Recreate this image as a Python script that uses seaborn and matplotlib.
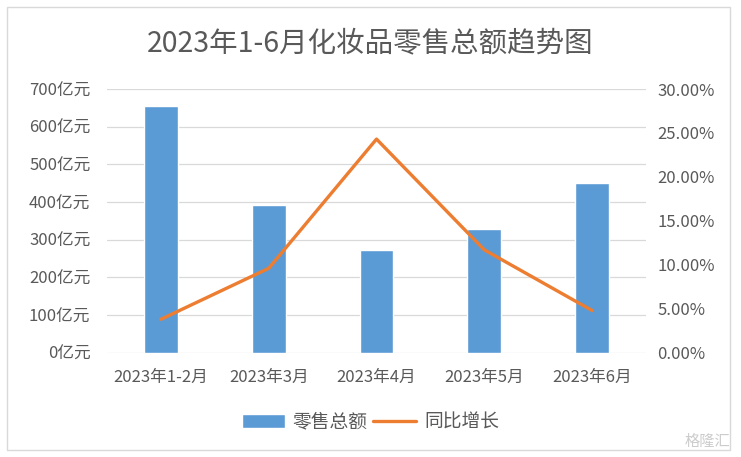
import matplotlib
matplotlib.use("Agg")
import matplotlib.pyplot as plt
from matplotlib.patches import Rectangle
import numpy as np
import pandas as pd
import seaborn as sns

# data
months = ["2023年1-2月", "2023年3月", "2023年4月", "2023年5月", "2023年6月"]
retail_total = [655, 392, 272, 329, 450]          # 亿元
yoy_growth = [0.038, 0.096, 0.243, 0.117, 0.048]  # 同比增长

left_ticks = [0, 100, 200, 300, 400, 500, 600, 700]
right_ticks = [0.0, 0.05, 0.10, 0.15, 0.20, 0.25, 0.30]

sns.set_theme(style="white")
plt.rcParams["font.family"] = ["Noto Sans CJK SC", "DejaVu Sans"]

text_color = "#595959"
grid_color = "#d9d9d9"
bar_color = "#5b9bd5"
line_color = "#ed7d31"

df = pd.DataFrame({"month": months, "total": retail_total, "yoy": yoy_growth})

fig = plt.figure(figsize=(7.41, 4.57), dpi=100)
fig.patch.set_facecolor("white")
ax = fig.add_axes([107 / 741, 1 - 352.7 / 457, 539 / 741, 263.7 / 457])
ax2 = ax.twinx()

sns.barplot(data=df, x="month", y="total", color=bar_color, saturation=1,
            width=0.315, ax=ax, zorder=2)
sns.lineplot(x=np.arange(len(df)), y=df["yoy"], color=line_color,
             linewidth=2.4, ax=ax2, zorder=3)

ax.set_xlim(-0.5, len(months) - 0.5)
ax.set_ylim(0, 700)
ax.set_yticks(left_ticks)
ax.set_yticklabels([f"{v}亿元" for v in left_ticks])
ax2.set_ylim(0, 0.30)
ax2.set_yticks(right_ticks)
ax2.set_yticklabels([f"{v:.2%}" for v in right_ticks])

ax.yaxis.grid(True, color=grid_color, linewidth=0.9)
ax.set_axisbelow(True)
ax.set_xlabel("")
ax.set_ylabel("")
ax2.set_ylabel("")
for a in (ax, ax2):
    for s in a.spines.values():
        s.set_visible(False)
ax.tick_params(axis="y", length=0, pad=12, labelsize=12, labelcolor=text_color)
ax.tick_params(axis="x", length=0, pad=12, labelsize=12, labelcolor=text_color)
ax2.tick_params(axis="y", length=0, pad=8, labelsize=12, labelcolor=text_color)

fig.text(0.5, 1 - 43 / 457, "2023年1-6月化妆品零售总额趋势图", ha="center",
         va="center", fontsize=20.5, color=text_color)

handles = [ax.patches[0], ax2.lines[0]]
fig.legend(handles, ["零售总额", "同比增长"], loc="center",
           bbox_to_anchor=(0.5, 1 - 422 / 457), ncol=2, frameon=False,
           fontsize=13.5, labelcolor=text_color, handlelength=2.3,
           handletextpad=0.4, columnspacing=0.3)

fig.text(730 / 741, 1 - 441 / 457, "格隆汇", ha="right", va="center",
         fontsize=11, color="#cccccc")

fig.patches.append(Rectangle((7 / 741, 1 - 450 / 457), 723 / 741, 443 / 457,
                             transform=fig.transFigure, fill=False,
                             edgecolor=grid_color, linewidth=1))

fig.savefig("out.png", dpi=100)
